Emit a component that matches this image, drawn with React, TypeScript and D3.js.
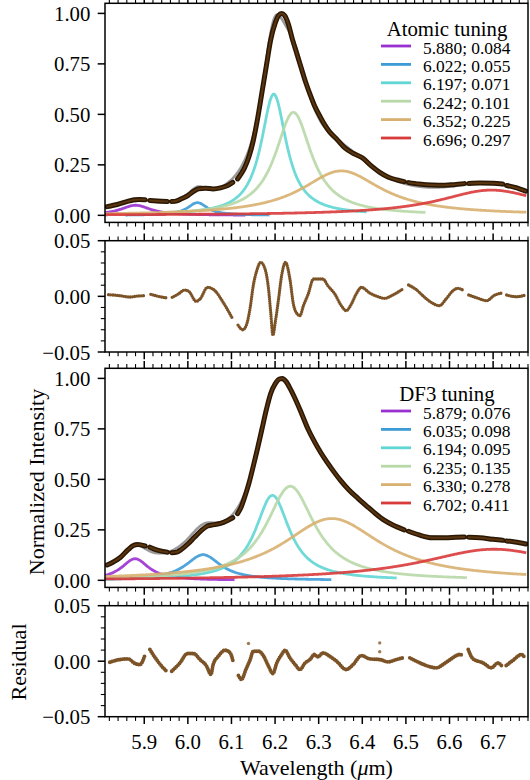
import React from "react";
import * as d3 from "d3";

// ---------------- data ----------------
const wavelengthTicks = [5.9, 6.0, 6.1, 6.2, 6.3, 6.4, 6.5, 6.6, 6.7];
const intensityTicks = [0, 0.25, 0.5, 0.75, 1.0];
const residualTicks = [-0.05, 0, 0.05];

const componentColors = ["#9b30d0", "#3d9bd6", "#5fd6d3", "#b8d8a8", "#d8b070", "#d93a3a"];

const atomicCenters = [5.88, 6.022, 6.197, 6.242, 6.352, 6.696];
const atomicFwhm = [0.084, 0.055, 0.071, 0.101, 0.225, 0.297];
const atomicPeaks = [0.05, 0.063, 0.6, 0.51, 0.22, 0.125];

const df3Centers = [5.879, 6.035, 6.194, 6.235, 6.33, 6.702];
const df3Fwhm = [0.076, 0.098, 0.095, 0.135, 0.278, 0.411];
const df3Peaks = [0.107, 0.127, 0.421, 0.466, 0.306, 0.154];

// observed spectra (null = gap in data)
const atomicWave = [5.815, 5.84, 5.86, 5.875, 5.888, 5.902, null, 5.913, 5.93, 5.953, null, 5.963, 5.975, 5.985, 6.0, 6.012, 6.025, 6.04, 6.058, 6.075, 6.09, 6.103, null, 6.114, 6.122, 6.13, 6.14, 6.15, 6.16, 6.17, 6.18, 6.19, 6.2, 6.208, 6.215, 6.222, 6.23, 6.24, 6.25, 6.26, 6.27, 6.28, 6.29, 6.3, 6.31, 6.325, 6.34, 6.36, 6.38, 6.4, 6.42, 6.44, 6.46, 6.48, 6.496, null, 6.506, 6.53, 6.56, 6.59, 6.61, 6.634, null, 6.644, 6.67, 6.7, 6.722, null, 6.731, 6.75, 6.775];
const atomicObs = [0.043, 0.055, 0.068, 0.076, 0.078, 0.077, null, 0.074, 0.071, 0.068, null, 0.068, 0.072, 0.082, 0.098, 0.117, 0.132, 0.134, 0.131, 0.136, 0.146, 0.163, null, 0.18, 0.205, 0.235, 0.29, 0.37, 0.48, 0.61, 0.74, 0.87, 0.95, 0.99, 1.0, 0.99, 0.95, 0.87, 0.8, 0.73, 0.66, 0.6, 0.545, 0.502, 0.462, 0.413, 0.381, 0.334, 0.306, 0.285, 0.246, 0.213, 0.189, 0.175, 0.167, null, 0.162, 0.155, 0.15, 0.149, 0.152, 0.157, null, 0.158, 0.16, 0.159, 0.155, null, 0.148, 0.138, 0.12];

const df3Wave = [5.815, 5.83, 5.845, 5.863, 5.875, 5.885, 5.902, null, 5.913, 5.93, 5.953, null, 5.963, 5.975, 5.985, 6.0, 6.015, 6.03, 6.045, 6.06, 6.075, 6.09, 6.103, null, 6.114, 6.122, 6.13, 6.14, 6.15, 6.16, 6.17, 6.18, 6.19, 6.2, 6.21, 6.217, 6.225, 6.235, 6.245, 6.26, 6.275, 6.29, 6.305, 6.32, 6.335, 6.35, 6.37, 6.39, 6.41, 6.43, 6.45, 6.47, 6.496, null, 6.506, 6.53, 6.56, 6.59, 6.615, 6.634, null, 6.644, 6.67, 6.7, 6.722, null, 6.731, 6.75, 6.775];
const df3Obs = [0.076, 0.092, 0.113, 0.152, 0.172, 0.177, 0.17, null, 0.164, 0.149, 0.139, null, 0.137, 0.14, 0.153, 0.18, 0.213, 0.245, 0.269, 0.276, 0.282, 0.295, 0.31, null, 0.33, 0.362, 0.41, 0.48, 0.565, 0.655, 0.75, 0.845, 0.925, 0.972, 0.997, 1.0, 0.985, 0.948, 0.904, 0.83, 0.752, 0.688, 0.632, 0.583, 0.537, 0.495, 0.446, 0.406, 0.368, 0.331, 0.298, 0.274, 0.25, null, 0.243, 0.225, 0.211, 0.211, 0.213, 0.214, null, 0.213, 0.211, 0.203, 0.198, null, 0.195, 0.19, 0.18];

// residuals
const atomicResWave = [5.818, 5.844, 5.867, 5.885, 5.902, null, 5.915, 5.936, 5.953, null, 5.964, 5.978, 5.993, 6.003, 6.019, 6.028, 6.045, 6.062, 6.081, 6.103, null, 6.115, 6.126, 6.135, 6.143, 6.15, 6.158, 6.167, 6.177, 6.185, 6.19, 6.195, 6.201, 6.208, 6.215, 6.224, 6.234, 6.242, 6.251, 6.257, 6.265, 6.276, 6.288, 6.298, 6.31, 6.321, 6.337, 6.352, 6.363, 6.375, 6.386, 6.398, 6.417, 6.436, 6.451, 6.47, 6.495, null, 6.506, 6.524, 6.543, 6.558, 6.577, 6.592, 6.608, 6.619, 6.633, null, 6.644, 6.666, 6.685, 6.704, 6.721, null, 6.731, 6.753, 6.775];
const atomicRes = [0.0015, 0.0006, -0.0006, 0.0003, 0.0006, null, 0.0018, -0.0003, -0.0015, null, -0.0009, 0.0021, 0.0057, 0.0042, -0.0045, -0.0024, 0.0081, 0.0051, -0.0054, -0.0204, null, -0.0258, -0.03, -0.0249, -0.0099, 0.0096, 0.0231, 0.0306, 0.0246, 0.0066, -0.0144, -0.0348, -0.0219, -0.0024, 0.0186, 0.0306, 0.0156, -0.0069, -0.0159, -0.0174, -0.0084, 0.0021, 0.0156, 0.0156, 0.0156, 0.0096, 0.0021, -0.0084, -0.0129, -0.0069, 0.0021, 0.0081, 0.003, -0.0003, -0.0018, 0.0012, 0.0072, null, 0.0102, 0.006, -0.0009, -0.0054, -0.0084, -0.0024, 0.0051, 0.0072, 0.0051, null, 0.0012, -0.0018, -0.0039, 0.0012, 0.003, null, 0.0012, -0.0003, 0.0012];

const df3ResWave = [5.821, 5.844, 5.863, 5.879, 5.89, 5.902, null, 5.913, 5.921, 5.94, 5.951, null, 5.963, 5.982, 5.999, 6.013, 6.028, 6.043, 6.053, 6.058, 6.07, 6.085, 6.097, 6.104, null, 6.116, 6.123, 6.133, 6.143, 6.15, 6.162, 6.173, 6.185, 6.195, 6.204, 6.215, 6.223, 6.234, 6.246, 6.257, 6.269, 6.28, 6.29, 6.298, 6.31, 6.325, 6.341, 6.363, 6.379, 6.398, 6.417, 6.44, 6.459, 6.478, 6.493, null, 6.509, 6.532, 6.551, 6.57, 6.585, 6.604, 6.623, 6.631, null, 6.643, 6.654, 6.677, 6.696, 6.711, 6.719, null, 6.73, 6.746, 6.765, 6.773];
const df3Res = [-0.0009, 0.0015, 0.0021, -0.0021, -0.003, 0.006, null, 0.0105, 0.0055, -0.0045, -0.009, null, -0.009, -0.0015, 0.0069, 0.0069, 0.0015, -0.0045, -0.012, -0.003, 0.0045, 0.0099, 0.0075, -0.0006, null, -0.0129, -0.0165, -0.0075, 0.0015, 0.009, 0.009, 0.0051, -0.0045, -0.0111, -0.0015, 0.006, 0.0099, 0.003, -0.003, -0.0075, -0.0015, 0.0015, 0.006, 0.0039, 0.0075, 0.0045, 0, -0.0075, -0.003, 0.0051, 0.0021, 0.0015, -0.0006, 0.0015, 0.003, null, 0.003, -0.0015, -0.0045, -0.006, -0.003, 0.0021, 0.006, 0.0051, null, 0.0105, 0.0021, -0.0015, -0.006, -0.0015, -0.0039, null, -0.0039, 0.0009, 0.006, 0.003];
const df3OutlierWave = [6.139, 6.44, 6.44];
const df3OutlierRes = [0.0159, 0.0165, 0.0085];

// ---------------- helpers ----------------
const FONT = "'Liberation Serif', 'Times New Roman', 'DejaVu Serif', serif";
const X0 = 105, X1 = 528;
const WL_MIN = 5.81, WL_MAX = 6.78;
const DATA_MIN = 5.815, DATA_MAX = 6.776;
const MAJ = 7.3, MIN = 4.2;
const TICK_FS = 20.8;

function drude(l: number, c: number, w: number, a: number) {
  const g = w / c;
  const d = l / c - c / l;
  return (a * g * g) / (d * d + g * g);
}

type Pt = [number, number] | null;
function zipPts(xs: (number | null)[], ys: (number | null)[]): Pt[] {
  return xs.map((v, i) => (v == null || ys[i] == null ? null : [v, ys[i] as number]));
}

const x = d3.scaleLinear().domain([WL_MIN, WL_MAX]).range([X0, X1]);
const minorTicks = d3.range(5.82, 6.781, 0.02).filter((t) => Math.abs(Math.round(t * 10) - t * 10) > 0.01);

function XTicks({ top, bottom }: { top: number; bottom: number }) {
  const items: React.ReactNode[] = [];
  wavelengthTicks.forEach((t, i) => {
    items.push(<line key={"mt" + i} x1={x(t)} x2={x(t)} y1={top} y2={top - MAJ} stroke="#000" strokeWidth={1.5} />);
    items.push(<line key={"mb" + i} x1={x(t)} x2={x(t)} y1={bottom} y2={bottom + MAJ} stroke="#000" strokeWidth={1.5} />);
  });
  minorTicks.forEach((t, i) => {
    items.push(<line key={"nt" + i} x1={x(t)} x2={x(t)} y1={top} y2={top - MIN} stroke="#000" strokeWidth={1.1} />);
    items.push(<line key={"nb" + i} x1={x(t)} x2={x(t)} y1={bottom} y2={bottom + MIN} stroke="#000" strokeWidth={1.1} />);
  });
  return <g>{items}</g>;
}

function YAxis({ y, ticks, minor, fmt }: { y: d3.ScaleLinear<number, number>; ticks: number[]; minor: number[]; fmt: (v: number) => string }) {
  return (
    <g>
      {ticks.map((t, i) => (
        <g key={i}>
          <line x1={X0} x2={X0 - MAJ} y1={y(t)} y2={y(t)} stroke="#000" strokeWidth={1.5} />
          <text x={X0 - 2 * MAJ} y={y(t)} textAnchor="end" dominantBaseline="central" fontSize={TICK_FS} fontFamily={FONT}>
            {fmt(t)}
          </text>
        </g>
      ))}
      {minor.map((t, i) => (
        <line key={"m" + i} x1={X0} x2={X0 - MIN} y1={y(t)} y2={y(t)} stroke="#000" strokeWidth={1.1} />
      ))}
    </g>
  );
}

function IntensityPanel({ id, top, bottom, centers, fwhm, peaks, wave, obs, title, legendTop }: any) {
  const y = d3.scaleLinear().domain([-0.035, 1.05]).range([bottom, top]);
  const line = d3
    .line<Pt>()
    .defined((d) => d != null)
    .x((d) => x((d as [number, number])[0]))
    .y((d) => y((d as [number, number])[1]))
    .curve(d3.curveMonotoneX);
  const grid = d3.range(DATA_MIN, DATA_MAX, 0.002);
  const model: Pt[] = grid.map((l) => [l, centers.reduce((s: number, c: number, i: number) => s + drude(l, c, fwhm[i], peaks[i]), 0)]);
  const comps = centers.map((c: number, i: number) => {
    const lo = Math.max(DATA_MIN - 0.01, c - 3 * fwhm[i]);
    const hi = Math.min(DATA_MAX, c + 3 * fwhm[i]);
    const g = d3.range(lo, hi, 0.002).concat([hi]);
    return g.map((l) => [l, drude(l, c, fwhm[i], peaks[i])] as Pt);
  });
  const dataPts = zipPts(wave, obs);
  const fmt = (v: number) => v.toFixed(2);
  return (
    <g>
      <defs>
        <clipPath id={"clip" + id}>
          <rect x={X0} y={top} width={X1 - X0} height={bottom - top} />
        </clipPath>
      </defs>
      <g clipPath={`url(#clip${id})`}>
        <path d={line(model) || ""} fill="none" stroke="#9a9a9a" strokeWidth={2.6} />
        <path d={line(dataPts) || ""} fill="none" stroke="#2a1804" strokeWidth={5} strokeLinecap="round" />
        <path d={line(dataPts) || ""} fill="none" stroke="#5a3510" strokeWidth={2} strokeLinecap="round" />
        {comps.map((pts: Pt[], i: number) => (
          <path key={i} d={line(pts) || ""} fill="none" stroke={componentColors[i]} strokeWidth={2.8} strokeOpacity={0.9} />
        ))}
      </g>
      <rect x={X0} y={top} width={X1 - X0} height={bottom - top} fill="none" stroke="#000" strokeWidth={1.5} />
      <YAxis y={y} ticks={intensityTicks} minor={[]} fmt={fmt} />
      <XTicks top={top} bottom={bottom} />
      <text x={447} y={legendTop} textAnchor="middle" dominantBaseline="central" fontSize={20.8} fontFamily={FONT}>
        {title}
      </text>
      {centers.map((c: number, i: number) => {
        const ly = legendTop + 18 + i * 18.4;
        return (
          <g key={"lg" + i}>
            <line x1={381} x2={411} y1={ly} y2={ly} stroke={componentColors[i]} strokeWidth={2.8} />
            <text x={423} y={ly + 1.5} dominantBaseline="central" fontSize={17.4} fontFamily={FONT}>
              {`${c.toFixed(3)}; ${fwhm[i].toFixed(3)}`}
            </text>
          </g>
        );
      })}
    </g>
  );
}

function ResidualPanel({ id, top, bottom, wave, res, outW, outR, width }: any) {
  const y = d3.scaleLinear().domain([-0.05, 0.05]).range([bottom, top]);
  const line = d3
    .line<Pt>()
    .defined((d) => d != null)
    .x((d) => x((d as [number, number])[0]))
    .y((d) => y((d as [number, number])[1]))
    .curve(d3.curveMonotoneX);
  const pts = zipPts(wave, res);
  const fmt = (v: number) => (Math.abs(v) < 1e-9 ? "0.00" : v < 0 ? "\u2212" + Math.abs(v).toFixed(2) : v.toFixed(2));
  const minor = d3.range(-0.04, 0.041, 0.01).filter((t) => Math.abs(t) > 1e-6);
  return (
    <g>
      <defs>
        <clipPath id={"clip" + id}>
          <rect x={X0} y={top} width={X1 - X0} height={bottom - top} />
        </clipPath>
      </defs>
      <g clipPath={`url(#clip${id})`}>
        <path d={line(pts) || ""} fill="none" stroke="#6e400e" strokeOpacity={0.9} strokeWidth={width} strokeLinecap="round" strokeDasharray="0 2.2" />
        {(outW || []).map((w: number, i: number) => (
          <circle key={i} cx={x(w)} cy={y(outR[i])} r={1.7} fill="#8a5a28" fillOpacity={0.8} />
        ))}
      </g>
      <rect x={X0} y={top} width={X1 - X0} height={bottom - top} fill="none" stroke="#000" strokeWidth={1.5} />
      <YAxis y={y} ticks={residualTicks} minor={minor} fmt={fmt} />
      <XTicks top={top} bottom={bottom} />
    </g>
  );
}

export default function App() {
  return (
    <svg width={530} height={780} style={{ position: "absolute", left: 0, top: 0, background: "#fff" }} fontFamily={FONT}>
      <rect x={0} y={0} width={530} height={780} fill="#fff" />
      <IntensityPanel id="a" top={3.3} bottom={222.4} centers={atomicCenters} fwhm={atomicFwhm} peaks={atomicPeaks} wave={atomicWave} obs={atomicObs} title="Atomic tuning" legendTop={28} />
      <ResidualPanel id="b" top={240.7} bottom={352} wave={atomicResWave} res={atomicRes} width={3.3} />
      <IntensityPanel id="c" top={368.3} bottom={587.4} centers={df3Centers} fwhm={df3Fwhm} peaks={df3Peaks} wave={df3Wave} obs={df3Obs} title="DF3 tuning" legendTop={393} />
      <ResidualPanel id="d" top={605.7} bottom={716.7} wave={df3ResWave} res={df3Res} outW={df3OutlierWave} outR={df3OutlierRes} width={3.9} />
      {wavelengthTicks.map((t, i) => (
        <text key={i} x={x(t)} y={741} textAnchor="middle" dominantBaseline="central" fontSize={TICK_FS} fontFamily={FONT}>
          {t.toFixed(1)}
        </text>
      ))}
      <text x={316.5} y={767} textAnchor="middle" dominantBaseline="central" fontSize={22} fontFamily={FONT}>
        Wavelength (<tspan fontStyle="italic">μ</tspan>m)
      </text>
      <text transform="translate(36,482) rotate(-90)" textAnchor="middle" dominantBaseline="central" fontSize={22} fontFamily={FONT}>
        Normalized Intensity
      </text>
      <text transform="translate(18,662) rotate(-90)" textAnchor="middle" dominantBaseline="central" fontSize={22} fontFamily={FONT}>
        Residual
      </text>
    </svg>
  );
}
